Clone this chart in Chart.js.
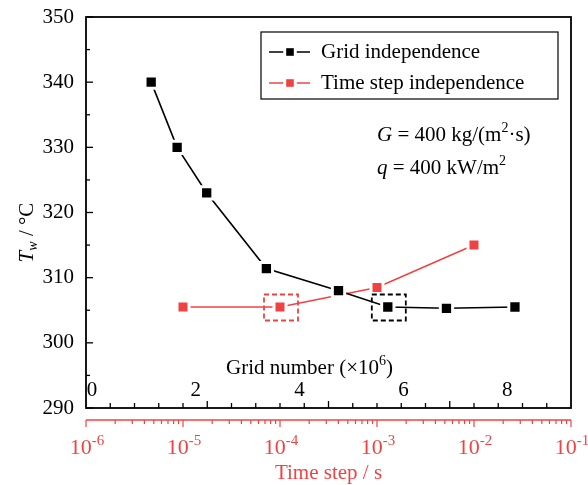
<!DOCTYPE html>
<html>
<head>
<meta charset="utf-8">
<script src="https://cdn.jsdelivr.net/npm/chart.js@4.4.1/dist/chart.umd.min.js"></script>
<style>
  html, body { margin: 0; padding: 0; background: #fff; }
  #wrap { width: 588px; height: 485px; }
</style>
</head>
<body>
<div id="wrap"><canvas id="tempChart"></canvas></div>
<script>
// Grid independence: grid number (x10^6) vs wall temperature
const gridNumbers = [1.14, 1.64, 2.21, 3.36, 4.75, 5.70, 6.83, 8.15];
const gridTemps = [340, 330, 323, 311.4, 308, 305.5, 305.3, 305.5];

// Time step independence: time step (s) vs wall temperature
const timeSteps = [1e-5, 1e-4, 1e-3, 1e-2];
const timeTemps = [305.5, 305.5, 308.5, 315];

// tick labels
const yTickValues = [290, 300, 310, 320, 330, 340, 350];
const gridTickLabels = [0, 2, 4, 6, 8];
const timeTickExps = [-6, -5, -4, -3, -2, -1];

// the chosen cases (dashed boxes)
const pickedGrid = 5;
const pickedTime = 1;

const RED = '#ef4343';
const FONT = '"Liberation Serif", "Times New Roman", serif';

function fontFor(r, size) {
  const s = (r.sup || r.sub) ? Math.round(size * 0.68) : size;
  return (r.it ? 'italic ' : '') + s + 'px ' + FONT;
}

// draws a line of text made of runs (italic / superscript / subscript)
function drawRuns(ctx, runs, x, y, size, color, align) {
  let total = 0;
  runs.forEach(r => {
    ctx.font = fontFor(r, size);
    r.w = ctx.measureText(r.t).width;
    total += r.w;
  });
  let cx = x;
  if (align === 'center') cx = x - total / 2;
  if (align === 'right') cx = x - total;
  ctx.fillStyle = color;
  ctx.textAlign = 'left';
  ctx.textBaseline = 'middle';
  runs.forEach(r => {
    ctx.font = fontFor(r, size);
    let dy = 0;
    if (r.sup) dy = -size * 0.32;
    if (r.sub) dy = size * 0.28;
    ctx.fillText(r.t, cx, y + dy);
    cx += r.w;
  });
}

function drawMarker(ctx, x, y, color, half) {
  ctx.fillStyle = '#fff';
  ctx.fillRect(x - half - 3, y - half - 3, 2 * half + 6, 2 * half + 6);
  ctx.fillStyle = color;
  ctx.fillRect(x - half, y - half, 2 * half, 2 * half);
}

const axesPlugin = {
  id: 'axesPlugin',
  afterDatasetsDraw(chart) {
    const { ctx, chartArea: a, scales } = chart;
    ctx.save();
    // dashed boxes round the chosen points
    ctx.setLineDash([5, 3]);
    ctx.lineWidth = 1.8;
    const bw = 34, bh = 26;
    let px = scales.x.getPixelForValue(gridNumbers[pickedGrid]);
    let py = scales.y.getPixelForValue(gridTemps[pickedGrid]);
    ctx.strokeStyle = '#000';
    ctx.strokeRect(px - bw / 2 + 1, py - bh / 2 + 0.5, bw, bh);
    px = scales.xt.getPixelForValue(timeSteps[pickedTime]);
    py = scales.y.getPixelForValue(timeTemps[pickedTime]);
    ctx.strokeStyle = RED;
    ctx.strokeRect(px - bw / 2 + 1, py - bh / 2 + 0.5, bw, bh);
    ctx.setLineDash([]);
    ctx.restore();
  },
  afterDraw(chart) {
    const { ctx, chartArea: a, scales } = chart;
    ctx.save();

    // frame
    ctx.strokeStyle = '#000';
    ctx.lineWidth = 1.8;
    ctx.strokeRect(a.left, a.top, a.right - a.left, a.bottom - a.top);

    // y ticks (inward) and labels
    ctx.lineWidth = 1.3;
    for (let v = 290; v <= 350; v += 5) {
      const y = scales.y.getPixelForValue(v);
      const len = v % 10 === 0 ? 7 : 4;
      ctx.beginPath();
      ctx.moveTo(a.left, y);
      ctx.lineTo(a.left + len, y);
      ctx.stroke();
    }
    yTickValues.forEach(v => {
      drawRuns(ctx, [{ t: String(v) }], a.left - 12, scales.y.getPixelForValue(v), 21, '#000', 'right');
    });

    // y title
    ctx.save();
    ctx.translate(27, (a.top + a.bottom) / 2 + 20);
    ctx.rotate(-Math.PI / 2);
    drawRuns(ctx, [{ t: 'T', it: true }, { t: 'w', it: true, sub: true }, { t: ' / \u00B0C' }], 0, 0, 21, '#000', 'center');
    ctx.restore();

    // bottom black ticks (inward)
    ctx.strokeStyle = '#000';
    const n = 20;
    for (let i = 1; i < n; i++) {
      const x = a.left + (a.right - a.left) * i / n;
      const len = i % 5 === 0 ? 7 : 5;
      ctx.beginPath();
      ctx.moveTo(x, a.bottom);
      ctx.lineTo(x, a.bottom - len);
      ctx.stroke();
    }
    // grid number labels inside the plot
    gridTickLabels.forEach(v => {
      drawRuns(ctx, [{ t: String(v) }], scales.x.getPixelForValue(v), a.bottom - 18, 21, '#000', 'center');
    });
    drawRuns(ctx, [{ t: 'Grid number (\u00D710' }, { t: '6', sup: true }, { t: ')' }],
      a.left + 140, a.bottom - 40, 21, '#000', 'left');

    // red time step axis below the plot
    const ry = a.bottom + 12;
    ctx.strokeStyle = RED;
    ctx.lineWidth = 1.4;
    ctx.beginPath();
    ctx.moveTo(a.left, ry);
    ctx.lineTo(a.right, ry);
    ctx.stroke();
    ctx.lineWidth = 1.2;
    for (let d = -6; d <= -2; d++) {
      for (let k = 1; k <= 9; k++) {
        const x = scales.xt.getPixelForValue(k * Math.pow(10, d));
        const len = k === 1 ? 7 : 4;
        ctx.beginPath();
        ctx.moveTo(x, ry);
        ctx.lineTo(x, ry + len);
        ctx.stroke();
      }
    }
    const xe = scales.xt.getPixelForValue(0.1);
    ctx.beginPath();
    ctx.moveTo(xe, ry);
    ctx.lineTo(xe, ry + 7);
    ctx.stroke();
    timeTickExps.forEach(e => {
      drawRuns(ctx, [{ t: '10' }, { t: String(e), sup: true }],
        scales.xt.getPixelForValue(Math.pow(10, e)) + 1, ry + 28, 22, RED, 'center');
    });
    drawRuns(ctx, [{ t: 'Time step / s' }], (a.left + a.right) / 2, ry + 53, 21, RED, 'center');

    // legend
    const lx = a.left + 175, ly = a.top + 15;
    ctx.strokeStyle = '#000';
    ctx.lineWidth = 1.2;
    ctx.strokeRect(lx, ly, 297, 67);
    const entries = [
      { label: 'Grid independence', color: '#000' },
      { label: 'Time step independence', color: RED }
    ];
    entries.forEach((en, i) => {
      const y = ly + 20 + i * 31;
      ctx.strokeStyle = en.color;
      ctx.lineWidth = 1.6;
      ctx.beginPath();
      ctx.moveTo(lx + 8, y);
      ctx.lineTo(lx + 49, y);
      ctx.stroke();
      drawMarker(ctx, lx + 29, y, en.color, 3.8);
      drawRuns(ctx, [{ t: en.label }], lx + 60, y, 21, '#000', 'left');
    });

    // operating conditions
    drawRuns(ctx, [{ t: 'G', it: true }, { t: ' = 400 kg/(m' }, { t: '2', sup: true }, { t: '\u00B7s)' }],
      a.left + 291, a.top + 118, 21, '#000', 'left');
    drawRuns(ctx, [{ t: 'q', it: true }, { t: ' = 400 kW/m' }, { t: '2', sup: true }],
      a.left + 291, a.top + 151, 21, '#000', 'left');

    ctx.restore();
  }
};

const ctx = document.getElementById('tempChart').getContext('2d');
const tempChart = new Chart(ctx, {
  type: 'line',
  data: {
    datasets: [{
      label: 'Grid independence',
      data: gridNumbers.map((g, i) => ({ x: g, y: gridTemps[i] })),
      xAxisID: 'x',
      borderColor: '#000',
      backgroundColor: '#000',
      borderWidth: 1.6,
      pointStyle: 'rect',
      pointRadius: 8.7,
      pointBorderWidth: 3,
      pointBorderColor: '#fff',
      pointBackgroundColor: '#000',
      tension: 0
    }, {
      label: 'Time step independence',
      data: timeSteps.map((t, i) => ({ x: t, y: timeTemps[i] })),
      xAxisID: 'xt',
      borderColor: RED,
      backgroundColor: RED,
      borderWidth: 1.6,
      pointStyle: 'rect',
      pointRadius: 8.5,
      pointBorderWidth: 3,
      pointBorderColor: '#fff',
      pointBackgroundColor: RED,
      tension: 0
    }]
  },
  options: {
    responsive: true,
    maintainAspectRatio: false,
    animation: false,
    layout: { padding: { left: 86, top: 17, right: 17, bottom: 77 } },
    plugins: { legend: { display: false }, tooltip: { enabled: false } },
    scales: {
      x: { type: 'linear', min: -0.116, max: 9.23, display: false },
      xt: { type: 'logarithmic', min: 1e-6, max: 1e-1, display: false },
      y: { type: 'linear', min: 290, max: 350, display: false }
    }
  },
  plugins: [axesPlugin]
});
</script>
</body>
</html>
